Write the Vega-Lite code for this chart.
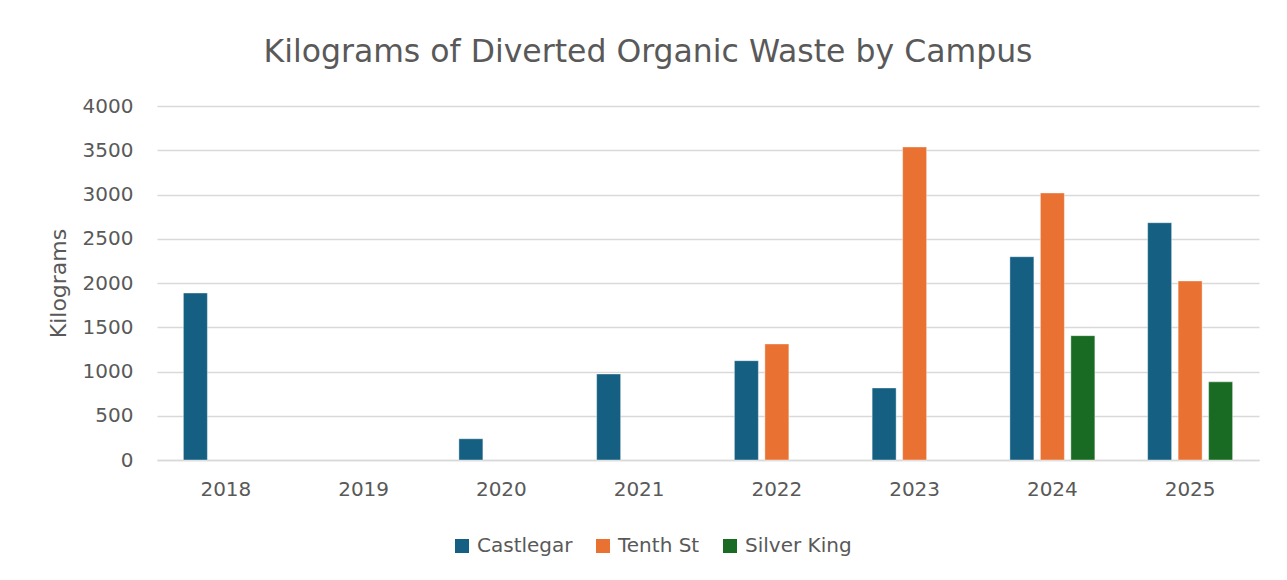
{
  "$schema": "https://vega.github.io/schema/vega-lite/v6.json",
  "autosize": {"type": "none"},
  "width": 1102,
  "height": 354,
  "padding": {"left": 157, "top": 106, "right": 28, "bottom": 120},
  "background": "white",
  "title": {
    "text": "Kilograms of Diverted Organic Waste by Campus",
    "font": "DejaVu Sans",
    "fontSize": 31.5,
    "fontWeight": "normal",
    "color": "#595959",
    "anchor": "middle",
    "frame": "group",
    "dx": -60,
    "offset": 28
  },
  "data": {
    "values": [
      {"Year": "2018", "Campus": "Castlegar", "Kilograms": 1887},
      {"Year": "2020", "Campus": "Castlegar", "Kilograms": 240},
      {"Year": "2021", "Campus": "Castlegar", "Kilograms": 972},
      {"Year": "2022", "Campus": "Castlegar", "Kilograms": 1122},
      {"Year": "2022", "Campus": "Tenth St", "Kilograms": 1311},
      {"Year": "2023", "Campus": "Castlegar", "Kilograms": 814},
      {"Year": "2023", "Campus": "Tenth St", "Kilograms": 3537},
      {"Year": "2024", "Campus": "Castlegar", "Kilograms": 2297},
      {"Year": "2024", "Campus": "Tenth St", "Kilograms": 3017},
      {"Year": "2024", "Campus": "Silver King", "Kilograms": 1405},
      {"Year": "2025", "Campus": "Castlegar", "Kilograms": 2681},
      {"Year": "2025", "Campus": "Tenth St", "Kilograms": 2023},
      {"Year": "2025", "Campus": "Silver King", "Kilograms": 883}
    ]
  },
  "mark": {"type": "bar", "stroke": "white", "strokeWidth": 0.8, "strokeOpacity": 0.5},
  "encoding": {
    "x": {
      "field": "Year",
      "type": "nominal",
      "scale": {
        "domain": ["2018", "2019", "2020", "2021", "2022", "2023", "2024", "2025"],
        "paddingInner": 0.336,
        "paddingOuter": 0.168
      },
      "axis": {
        "title": null,
        "labelAngle": 0,
        "labelFont": "DejaVu Sans",
        "labelFontSize": 20,
        "labelColor": "#595959",
        "labelPadding": 19,
        "ticks": false,
        "domainColor": "#d9d9d9",
        "domainWidth": 1.5
      }
    },
    "xOffset": {
      "field": "Campus",
      "type": "nominal",
      "scale": {
        "domain": ["Castlegar", "Tenth St", "Silver King"],
        "paddingInner": 0.213,
        "paddingOuter": 0.1065
      }
    },
    "y": {
      "field": "Kilograms",
      "type": "quantitative",
      "scale": {"domain": [0, 4000]},
      "axis": {
        "title": "Kilograms",
        "titleFont": "DejaVu Sans",
        "titleFontSize": 22,
        "titleFontWeight": "normal",
        "titleColor": "#595959",
        "titlePadding": 12,
        "format": "d",
        "values": [0, 500, 1000, 1500, 2000, 2500, 3000, 3500, 4000],
        "labelFont": "DejaVu Sans",
        "labelFontSize": 20,
        "labelColor": "#595959",
        "labelPadding": 24,
        "ticks": false,
        "domain": false,
        "gridColor": "#d9d9d9",
        "gridWidth": 1.5
      }
    },
    "color": {
      "field": "Campus",
      "type": "nominal",
      "scale": {
        "domain": ["Castlegar", "Tenth St", "Silver King"],
        "range": ["#156082", "#E97132", "#196B24"]
      },
      "legend": {
        "title": null,
        "orient": "none",
        "direction": "horizontal",
        "legendX": 295,
        "legendY": 430,
        "symbolType": "square",
        "symbolSize": 196,
        "symbolStrokeWidth": 0,
        "labelFont": "DejaVu Sans",
        "labelFontSize": 20,
        "labelColor": "#595959",
        "labelOffset": 5,
        "columnPadding": 20
      }
    }
  },
  "config": {
    "view": {"stroke": null}
  }
}
